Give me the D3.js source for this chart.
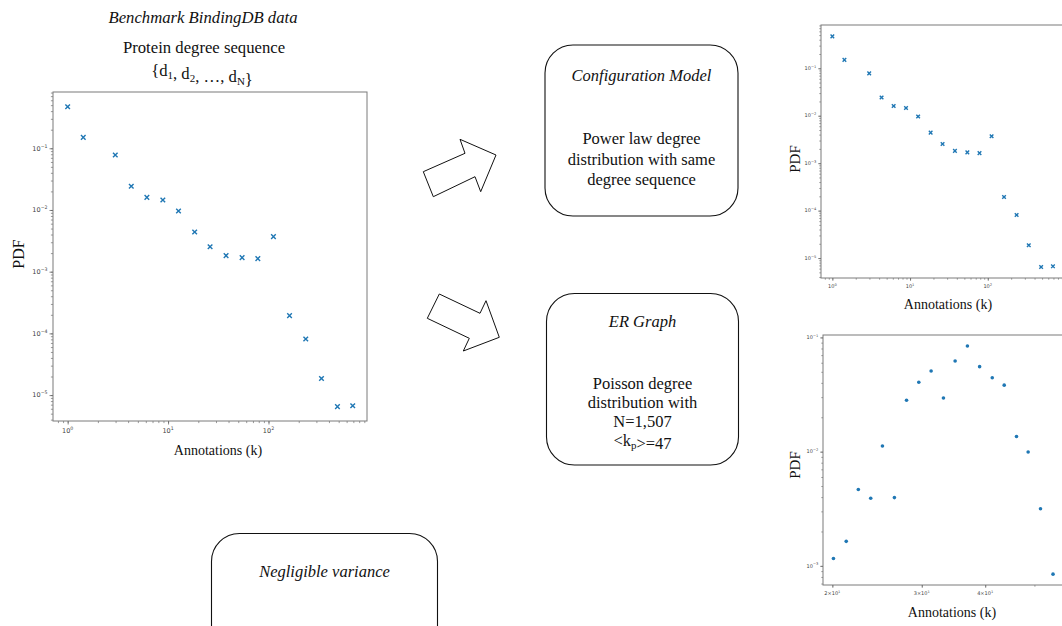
<!DOCTYPE html>
<html><head><meta charset="utf-8">
<script src="https://cdn.jsdelivr.net/npm/d3@7"></script>
<style>body{margin:0;background:#fff} svg{display:block}</style>
</head><body>
<svg id="c" width="1062" height="626"></svg>
<script>
// ---- data ----
const degreeK   = [1, 1.43, 2.98, 4.3, 6.15, 8.87, 12.7, 18.4, 26.2, 37.8, 54.6, 78.3, 112, 162, 235, 337, 486, 690];
const degreePdf = [0.47, 0.15, 0.078, 0.0242, 0.016, 0.0145, 0.0096, 0.0044, 0.00254, 0.00182, 0.00169, 0.00163, 0.0037, 0.000194, 8.1e-5, 1.86e-5, 6.5e-6, 6.7e-6];
const erK   = [20.1, 21.3, 22.5, 23.8, 25.1, 26.5, 28.0, 29.6, 31.3, 33.1, 34.9, 36.9, 39.0, 41.3, 43.6, 46.1, 48.6, 51.4, 54.4];
const erPdf = [0.00116, 0.00164, 0.00466, 0.00391, 0.0112, 0.00396, 0.0282, 0.0405, 0.0508, 0.0295, 0.0622, 0.0842, 0.0555, 0.0444, 0.0382, 0.01355, 0.00993, 0.00316, 0.000846];
const degXTicks = [1, 10, 100];
const degYTicks = [1e-1, 1e-2, 1e-3, 1e-4, 1e-5];
const erXTicks = [20, 30, 40];
const erYTicks = [1e-1, 1e-2, 1e-3];
const xLabel = "Annotations (k)";
const yLabel = "PDF";

const svg = d3.select("#c");
const SERIF = "'Liberation Serif','Times New Roman',serif";
const SANS = "'DejaVu Sans',sans-serif";
const BLUE = "#1f77b4";

function minorTicks(dom) {
  const lo = Math.min(...dom), hi = Math.max(...dom), out = [];
  for (let e = Math.floor(Math.log10(lo)); e <= Math.ceil(Math.log10(hi)); e++)
    for (let m = 1; m <= 9; m++) { const v = m * Math.pow(10, e); if (v >= lo && v <= hi) out.push(v); }
  return out;
}
function sup(n) { return String(n).replace("-", "\u2212"); }
function expLabel(text, v, fs, withMant) {
  const e = Math.floor(Math.log10(v) + 1e-9);
  const m = Math.round(v / Math.pow(10, e));
  text.text(null);
  text.append("tspan").text(withMant && m !== 1 ? m + "\u00d710" : "10");
  text.append("tspan").attr("dy", -fs * 0.45).attr("font-size", fs * 0.72).text(sup(e));
}

function logChart(o) {
  const x = d3.scaleLog().domain(o.xDom).range([o.left, o.right]);
  const y = d3.scaleLog().domain(o.yDom).range([o.bottom, o.top]);
  const g = svg.append("g");
  const xm = minorTicks(o.xDom), ym = minorTicks(o.yDom);
  g.append("g").attr("transform", `translate(0,${o.bottom})`)
    .call(d3.axisBottom(x).tickValues(xm).tickSize(o.tl * 0.6).tickFormat(""))
    .call(a => a.select(".domain").remove())
    .call(a => a.selectAll("line").attr("stroke", "#555").attr("stroke-width", 0.6));
  g.append("g").attr("transform", `translate(${o.left},0)`)
    .call(d3.axisLeft(y).tickValues(ym).tickSize(o.tl * 0.6).tickFormat(""))
    .call(a => a.select(".domain").remove())
    .call(a => a.selectAll("line").attr("stroke", "#555").attr("stroke-width", 0.6));
  g.append("g").attr("transform", `translate(0,${o.bottom})`)
    .call(d3.axisBottom(x).tickValues(o.xTicks).tickSize(o.tl).tickFormat(""))
    .call(a => a.select(".domain").remove())
    .call(a => a.selectAll("line").attr("stroke", "#555").attr("stroke-width", 0.7));
  g.append("g").attr("transform", `translate(${o.left},0)`)
    .call(d3.axisLeft(y).tickValues(o.yTicks).tickSize(o.tl).tickFormat(""))
    .call(a => a.select(".domain").remove())
    .call(a => a.selectAll("line").attr("stroke", "#555").attr("stroke-width", 0.7));
  g.selectAll(".xl").data(o.xTicks).join("text")
    .attr("x", d => x(d)).attr("y", o.bottom + o.tl + o.tf + 2)
    .attr("text-anchor", "middle").attr("font-family", SANS).attr("font-size", o.tf).attr("fill", "#444")
    .each(function (d) { expLabel(d3.select(this), d, o.tf, true); });
  g.selectAll(".yl").data(o.yTicks).join("text")
    .attr("x", o.left - o.tl - 2).attr("y", d => y(d) + o.tf * 0.35)
    .attr("text-anchor", "end").attr("font-family", SANS).attr("font-size", o.tf).attr("fill", "#444")
    .each(function (d) { expLabel(d3.select(this), d, o.tf, false); });
  g.append("rect").attr("x", o.left).attr("y", o.top).attr("width", o.right - o.left).attr("height", o.bottom - o.top)
    .attr("fill", "none").attr("stroke", "#7a7a7a").attr("stroke-width", 1);
  const pts = o.xs.map((v, i) => [v, o.ys[i]]);
  if (o.marker === "x") {
    const r = o.ms;
    g.selectAll(".pt").data(pts).join("path")
      .attr("d", d => { const cx = x(d[0]), cy = y(d[1]); return `M${cx - r},${cy - r}L${cx + r},${cy + r}M${cx - r},${cy + r}L${cx + r},${cy - r}`; })
      .attr("stroke", BLUE).attr("stroke-width", 1.4).attr("fill", "none");
  } else {
    g.selectAll(".pt").data(pts).join("circle")
      .attr("cx", d => x(d[0])).attr("cy", d => y(d[1])).attr("r", o.ms).attr("fill", BLUE);
  }
  g.append("text").attr("x", o.xlx).attr("y", o.xly).attr("text-anchor", "middle")
    .attr("font-family", SERIF).attr("font-size", 14).attr("fill", "#111").text(xLabel);
  const yl = g.append("text").attr("transform", `translate(${o.ylx},${o.yly}) rotate(-90)`)
    .attr("text-anchor", "middle").attr("dominant-baseline", "central")
    .attr("font-family", SERIF).attr("font-size", o.ylf).attr("fill", "#111").text(yLabel);
  if (o.ylBg) {
    const b = yl.node().getBBox();
    g.insert("rect", () => yl.node())
      .attr("transform", `translate(${o.ylx},${o.yly}) rotate(-90)`)
      .attr("x", b.x - 1).attr("y", b.y - 1).attr("width", b.width + 2).attr("height", b.height + 2).attr("fill", "#fff");
  }
}

logChart({ left: 53, right: 367, top: 92, bottom: 421,
  xDom: [Math.pow(10, -0.146), Math.pow(10, 2.981)], yDom: [Math.pow(10, -5.42), Math.pow(10, -0.088)],
  xs: degreeK, ys: degreePdf, xTicks: degXTicks, yTicks: degYTicks, marker: "x", ms: 2.3,
  tl: 3.5, tf: 6.5, xlx: 218, xly: 455, ylx: 18, yly: 254, ylf: 16 });
logChart({ left: 821, right: 1064, top: 25, bottom: 278,
  xDom: [Math.pow(10, -0.146), Math.pow(10, 2.981)], yDom: [Math.pow(10, -5.42), Math.pow(10, -0.088)],
  xs: degreeK, ys: degreePdf, xTicks: degXTicks, yTicks: degYTicks, marker: "x", ms: 1.8,
  tl: 2.8, tf: 5, xlx: 948, xly: 309, ylx: 795, yly: 159, ylf: 15, ylBg: true });
logChart({ left: 823, right: 1066, top: 335, bottom: 585,
  xDom: [19.17, 57.7], yDom: [6.8e-4, 0.105],
  xs: erK, ys: erPdf, xTicks: erXTicks, yTicks: erYTicks, marker: "o", ms: 1.8,
  tl: 2.8, tf: 5, xlx: 952, xly: 617, ylx: 795, yly: 465, ylf: 15, ylBg: true });

const t = svg.append("g").attr("font-family", SERIF).attr("fill", "#111").attr("text-anchor", "middle");
t.append("text").attr("x", 203).attr("y", 23).attr("font-size", 16.7).attr("font-style", "italic").text("Benchmark BindingDB data");
t.append("text").attr("x", 204).attr("y", 53).attr("font-size", 16.7).text("Protein degree sequence");
const seq = t.append("text").attr("x", 202).attr("y", 76).attr("font-size", 16.7);
[["{d", "1"], [", d", "2"], [", \u2026, d", "N"]].forEach(([a, s]) => {
  seq.append("tspan").text(a);
  seq.append("tspan").attr("font-size", 11).attr("dy", 3).text(s);
  seq.append("tspan").attr("dy", -3).text("");
});
seq.append("tspan").text("}");

const arrowStyle = s => s.attr("fill", "#fff").attr("stroke", "#111").attr("stroke-width", 1).attr("stroke-linejoin", "miter");
arrowStyle(svg.append("polygon").attr("points", "423.3,171.7 465,153.3 460,139.3 496,155 480.7,191.7 475,176.7 433.3,196.7"));
arrowStyle(svg.append("polygon").attr("points", "427.3,318.3 439.3,294 480,313.3 486,300.7 499.3,337.3 463.3,351 469.3,338.3"));

function box(x, y, w, h, lines) {
  svg.append("rect").attr("x", x).attr("y", y).attr("width", w).attr("height", h).attr("rx", 28).attr("ry", 28)
    .attr("fill", "#fff").attr("stroke", "#111").attr("stroke-width", 1.1);
  lines.forEach(l => {
    const tx = svg.append("text").attr("x", x + w / 2).attr("y", l.y).attr("text-anchor", "middle")
      .attr("font-family", SERIF).attr("font-size", 16.5).attr("fill", "#111")
      .attr("font-style", l.italic ? "italic" : "normal");
    l.parts.forEach(p => {
      if (typeof p === "string") tx.append("tspan").text(p);
      else { tx.append("tspan").attr("font-size", 11).attr("dy", 3).text(p.sub); tx.append("tspan").attr("dy", -3).text(""); }
    });
  });
}
box(545, 45, 193, 171, [
  { y: 81, italic: true, parts: ["Configuration Model"] },
  { y: 144, parts: ["Power law degree"] },
  { y: 165, parts: ["distribution with same"] },
  { y: 185, parts: ["degree sequence"] }
]);
box(546.5, 293.5, 192, 171.5, [
  { y: 327, italic: true, parts: ["ER Graph"] },
  { y: 389, parts: ["Poisson degree"] },
  { y: 408, parts: ["distribution with"] },
  { y: 427, parts: ["N=1,507"] },
  { y: 446, parts: ["<k", { sub: "p" }, ">=47"] }
]);
box(211.5, 533.5, 226, 140, [
  { y: 577, italic: true, parts: ["Negligible variance"] }
]);
</script>
</body></html>
